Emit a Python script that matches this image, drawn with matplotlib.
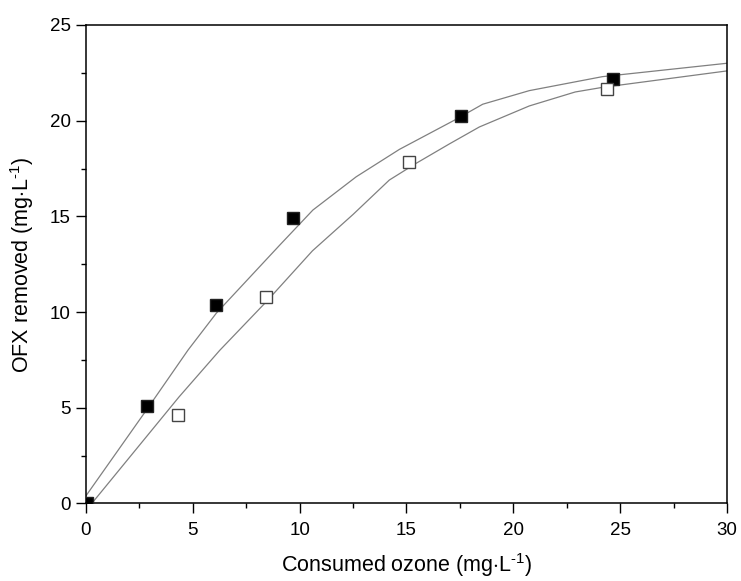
import matplotlib
matplotlib.use("Agg")
import matplotlib.pyplot as plt
from matplotlib.ticker import MultipleLocator

plt.rcParams["font.family"] = ["Liberation Sans", "DejaVu Sans"]
plt.rcParams["mathtext.fontset"] = "custom"
plt.rcParams["mathtext.rm"] = "Liberation Sans"
plt.rcParams["mathtext.it"] = "Liberation Sans"

# measured points
ozone_filled = [0.05, 2.85, 6.1, 9.69, 17.55, 24.67]
ofx_filled = [0.0, 5.09, 10.37, 14.93, 20.23, 22.19]
ozone_open = [4.3, 8.44, 15.14, 24.39]
ofx_open = [4.6, 10.8, 17.84, 21.64]

# fitted curves
fit1_x = [0, 2.83, 4.78, 6.1, 9.07, 10.62, 12.65, 14.67, 17.32, 18.57, 20.75, 24.17, 30]
fit1_y = [0.4, 4.88, 8.02, 9.94, 13.5, 15.33, 17.07, 18.5, 20.07, 20.86, 21.57, 22.3, 23.0]
fit2_x = [0.27, 4.35, 6.26, 8.44, 10.6, 12.5, 14.2, 15.45, 17.0, 18.41, 20.75, 22.9, 24.17, 30]
fit2_y = [0.0, 5.56, 8.0, 10.54, 13.2, 15.1, 16.9, 17.77, 18.78, 19.67, 20.77, 21.5, 21.74, 22.6]

fig = plt.figure(figsize=(7.41, 5.81), dpi=100)
ax = fig.add_axes([0.116, 0.1334, 0.865, 0.8236])

ax.plot(fit1_x, fit1_y, color="#808080", lw=0.9, zorder=2)
ax.plot(fit2_x, fit2_y, color="#808080", lw=0.9, zorder=2)
ax.plot(ozone_filled, ofx_filled, "s", ms=8.5, mfc="black", mec="#222222", mew=1.0,
        ls="none", zorder=3)
ax.plot(ozone_open, ofx_open, "s", ms=8.5, mfc="white", mec="#444444", mew=1.0,
        ls="none", zorder=3)

ax.set_xlim(0, 30)
ax.set_ylim(0, 25)
ax.xaxis.set_major_locator(MultipleLocator(5))
ax.xaxis.set_minor_locator(MultipleLocator(2.5))
ax.yaxis.set_major_locator(MultipleLocator(5))
ax.yaxis.set_minor_locator(MultipleLocator(2.5))
ax.tick_params(which="major", direction="out", length=7, width=1.0, labelsize=13.5,
               top=False, right=False)
ax.tick_params(axis="x", which="major", pad=6)
ax.tick_params(axis="y", which="major", pad=4)
ax.tick_params(which="minor", direction="out", length=3.5, width=1.0,
               top=False, right=False)
for s in ax.spines.values():
    s.set_linewidth(1.1)

ax.set_xlabel(r"Consumed ozone (mg$\cdot$L$^{\text{-1}}$)", fontsize=15.5, labelpad=9)
ax.set_ylabel(r"OFX removed (mg$\cdot$L$^{\text{-1}}$)", fontsize=15.5, labelpad=10)

plt.savefig("out.png", dpi=100)
